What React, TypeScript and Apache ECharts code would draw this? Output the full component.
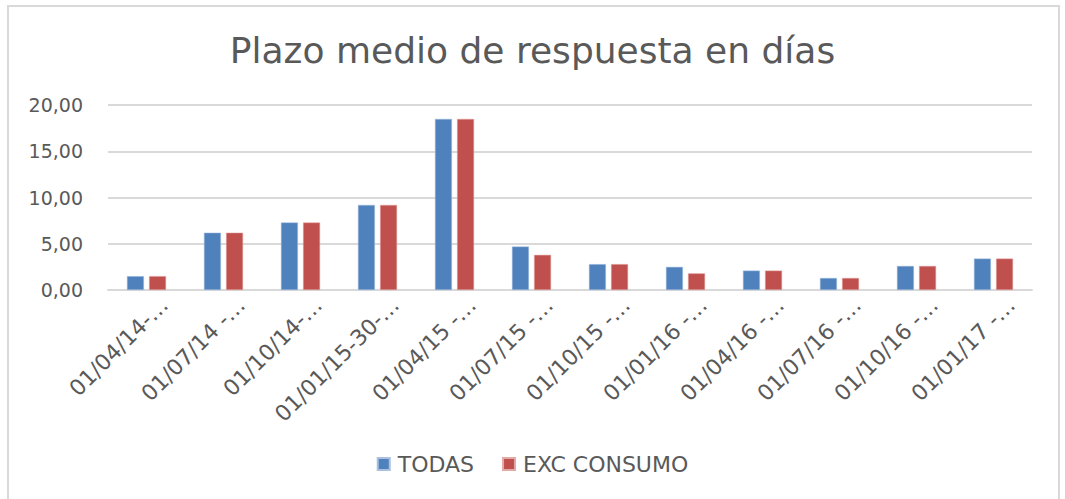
import React, { useEffect, useRef } from "react";
import * as echarts from "echarts";

const categories = [
  "01/04/14-…",
  "01/07/14 -…",
  "01/10/14-…",
  "01/01/15-30-…",
  "01/04/15 -…",
  "01/07/15 -…",
  "01/10/15 -…",
  "01/01/16 -…",
  "01/04/16 -…",
  "01/07/16 -…",
  "01/10/16 -…",
  "01/01/17 -…",
];
const todas = [1.5, 6.2, 7.3, 9.2, 18.5, 4.7, 2.8, 2.5, 2.1, 1.3, 2.6, 3.4];
const excConsumo = [1.5, 6.2, 7.3, 9.2, 18.5, 3.8, 2.8, 1.8, 2.1, 1.3, 2.6, 3.4];
const seriesNames = ["TODAS", "EXC CONSUMO"];
const titleText = "Plazo medio de respuesta en días";

const FONT = "DejaVu Sans";
const TEXT = "#595959";

export default function App() {
  const ref = useRef<HTMLDivElement>(null);
  useEffect(() => {
    if (!ref.current) return;
    const chart = echarts.init(ref.current, undefined, { renderer: "svg" });
    chart.setOption({
      animation: false,
      backgroundColor: "#ffffff",
      textStyle: { fontFamily: FONT, color: TEXT },
      title: {
        text: titleText,
        left: "center",
        top: 27,
        textStyle: { fontFamily: FONT, fontSize: 36, fontWeight: "normal", color: TEXT },
      },
      graphic: [
        {
          type: "rect",
          shape: { x: 8, y: 6, width: 1051, height: 500 },
          style: { fill: "none", stroke: "#d9d9d9", lineWidth: 2 },
          silent: true,
        },
      ],
      legend: {
        data: seriesNames,
        bottom: 19,
        left: "center",
        icon: "rect",
        itemWidth: 12,
        itemHeight: 12,
        itemGap: 28,
        textStyle: { fontFamily: FONT, fontSize: 22, color: TEXT, padding: [0, 0, 0, 3] },
      },
      grid: { left: 108, right: 33, top: 105, bottom: 209, containLabel: false },
      xAxis: {
        type: "category",
        data: categories,
        axisLine: { lineStyle: { color: "#d9d9d9", width: 2 } },
        axisTick: { show: false },
        axisLabel: {
          rotate: 45,
          interval: 0,
          fontFamily: FONT,
          fontSize: 22,
          color: TEXT,
          margin: 29,
          padding: [0, -25, 0, 0],
        },
      },
      yAxis: {
        type: "value",
        min: 0,
        max: 20,
        interval: 5,
        axisLine: { show: false },
        axisTick: { show: false },
        splitLine: { lineStyle: { color: "#d9d9d9", width: 2 } },
        axisLabel: {
          fontFamily: FONT,
          fontSize: 19,
          color: TEXT,
          margin: 25,
          formatter: (v: number) => v.toFixed(2).replace(".", ","),
        },
      },
      series: [
        {
          name: seriesNames[0],
          type: "bar",
          data: todas,
          barWidth: 17,
          barGap: "30%",
          itemStyle: { color: "#4F81BD", borderColor: "#a9c0e0", borderWidth: 0.5 },
        },
        {
          name: seriesNames[1],
          type: "bar",
          data: excConsumo,
          barWidth: 17,
          barGap: "30%",
          itemStyle: { color: "#C0504D", borderColor: "#e3a9a7", borderWidth: 0.5 },
        },
      ],
    });
    return () => chart.dispose();
  }, []);
  return (
    <div
      ref={ref}
      style={{ position: "fixed", left: 0, top: 0, width: 1065, height: 499 }}
    />
  );
}
